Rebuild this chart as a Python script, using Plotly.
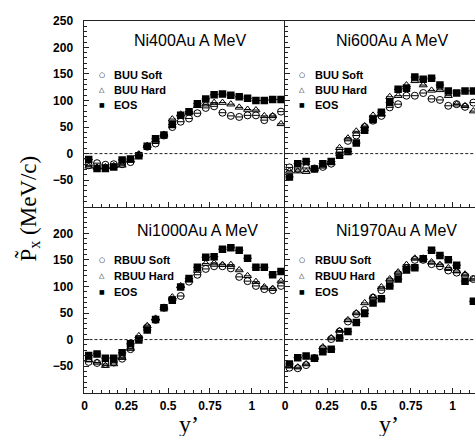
import plotly.graph_objects as go

W, H = 475, 436

# bin centres (y')
x_left = [0.025 + 0.05 * k for k in range(24)]
x_right = [0.025 + 0.05 * k for k in range(23)]

# Ni400Au A MeV
soft_400 = [-22, -18, -21, -20, -20, -16, -3, 13, 19, 34, 50, 60, 66, 76, 86, 89, 77, 71, 69, 72, 72, 63, 69, 79]
hard_400 = [-24, -26, -25, -23, -22, -12, -1, 15, 25, 36, 65, 74, 78, 90, 93, 96, 96, 93, 87, 83, 82, 71, 71, 56]
eos_400 = [-11, -28, -28, -25, -12, -10, -4, 14, 28, 35, 55, 72, 79, 94, 103, 111, 112, 110, 107, 104, 100, 100, 102, 102]

# Ni600Au A MeV
soft_600 = [-26, -29, -27, -28, -25, -19, 2, 24, 34, 50, 62, 71, 87, 93, 109, 109, 114, 103, 101, 90, 93, 88, 96]
hard_600 = [-33, -33, -34, -29, -24, -17, 11, 29, 42, 52, 72, 74, 107, 109, 129, 137, 129, 119, 120, 109, 93, 90, 80]
eos_600 = [-44, -19, -15, -29, -19, -15, -3, 4, 20, 44, 64, 78, 96, 121, 123, 144, 140, 142, 129, 118, 114, 118, 118]

# Ni1000Au A MeV
soft_1000 = [-42, -44, -46, -43, -36, -18, 1, 23, 37, 60, 75, 82, 109, 122, 133, 138, 138, 134, 118, 110, 101, 95, 93, 101]
hard_1000 = [-38, -43, -49, -46, -34, -17, 7, 26, 40, 60, 80, 101, 112, 130, 143, 144, 141, 141, 131, 120, 109, 99, 96, 110]
eos_1000 = [-30, -27, -35, -35, -25, -8, -1, 18, 38, 60, 74, 99, 115, 136, 155, 156, 170, 173, 168, 153, 136, 136, 122, 128]

# Ni1970Au A MeV
soft_1970 = [-53, -54, -48, -35, -17, 1, 15, 34, 48, 56, 79, 93, 110, 123, 134, 150, 150, 142, 138, 130, 126, 120, 114]
hard_1970 = [-50, -52, -46, -34, -14, 3, 17, 37, 50, 69, 80, 99, 114, 127, 141, 153, 153, 146, 141, 135, 129, 123, 114]
eos_1970 = [-46, -34, -31, -35, -23, -18, 3, 15, 32, 49, 69, 77, 101, 114, 131, 135, 152, 168, 158, 150, 140, 110, 72]

titles = ["Ni400Au A MeV", "Ni600Au A MeV", "Ni1000Au A MeV", "Ni1970Au A MeV"]
legend_top = ["BUU Soft", "BUU Hard", "EOS"]
legend_bottom = ["RBUU Soft", "RBUU Hard", "EOS"]
x_ticks = [0, 0.25, 0.5, 0.75, 1]
x_ticktext = ["0", "0.25", "0.5", "0.75", "1"]
y_ticks_top = [250, 200, 150, 100, 50, 0, -50]
y_ticks_bottom = [200, 150, 100, 50, 0, -50]

panels = [
    (x_left, soft_400, hard_400, eos_400, "x", "y"),
    (x_right, soft_600, hard_600, eos_600, "x2", "y2"),
    (x_left, soft_1000, hard_1000, eos_1000, "x3", "y3"),
    (x_right, soft_1970, hard_1970, eos_1970, "x4", "y4"),
]

fig = go.Figure()
for xs, soft, hard, eos, xa, ya in panels:
    ex = dict(type="constant", value=0.022, width=0, thickness=1, color="black")
    fig.add_trace(go.Scatter(x=xs, y=soft, xaxis=xa, yaxis=ya, mode="markers",
                             marker=dict(symbol="circle-open", size=7, color="black", line=dict(width=1)),
                             error_x=ex, showlegend=False))
    fig.add_trace(go.Scatter(x=xs, y=hard, xaxis=xa, yaxis=ya, mode="markers",
                             marker=dict(symbol="triangle-up-open", size=7, color="black", line=dict(width=1)),
                             error_x=ex, showlegend=False))
    fig.add_trace(go.Scatter(x=xs, y=eos, xaxis=xa, yaxis=ya, mode="markers",
                             marker=dict(symbol="square", size=7.5, color="black"),
                             error_x=dict(type="constant", value=0.025, width=0, thickness=1, color="black"),
                             error_y=dict(type="constant", value=4, width=0, thickness=1, color="black"),
                             showlegend=False))

def px(x):
    return x / W

def py(y):
    return 1 - y / H

left_dom = [px(82), px(284)]
right_dom = [px(284), 1.0]
top_dom = [py(203), py(14)]
bot_dom = [py(392), py(203)]
xr_left = [0, 1.2]
xr_right = [0, 1.2 * (475 - 284) / 202]
yr = [-100, 250]

tickfont = dict(family="Liberation Sans, Arial, sans-serif", size=12, color="black", weight="bold")
line_col = "#222"

def xax(dom, rng, labels, mirror):
    return dict(domain=dom, range=rng, showgrid=False, zeroline=False, showline=True,
                linecolor=line_col, linewidth=1, mirror=mirror, ticks="inside", ticklen=5,
                tickcolor=line_col, tickvals=x_ticks, ticktext=x_ticktext,
                showticklabels=labels, tickfont=tickfont, ticklabelstandoff=2,
                minor=dict(ticks="inside", ticklen=3, dtick=0.05, tickcolor=line_col, showgrid=False))

def yax(dom, anchor, labels, tv):
    return dict(domain=dom, range=yr, anchor=anchor, showgrid=False, zeroline=False, showline=True,
                linecolor=line_col, linewidth=1, ticks="inside", ticklen=5, tickcolor=line_col,
                tickvals=tv, showticklabels=labels, tickfont=tickfont, ticklabelstandoff=8,
                minor=dict(ticks="inside", ticklen=3, dtick=10, tickcolor=line_col, showgrid=False))

fig.update_layout(
    width=W, height=H, margin=dict(l=0, r=0, t=0, b=0),
    paper_bgcolor="white", plot_bgcolor="white",
    xaxis=xax(left_dom, xr_left, False, True) | dict(anchor="y"),
    yaxis=yax(top_dom, "x", True, y_ticks_top),
    xaxis2=xax(right_dom, xr_right, False, True) | dict(anchor="y2"),
    yaxis2=yax(top_dom, "x2", False, y_ticks_top),
    xaxis3=xax(left_dom, xr_left, True, False) | dict(anchor="y3"),
    yaxis3=yax(bot_dom, "x3", True, y_ticks_bottom),
    xaxis4=xax(right_dom, xr_right, True, False) | dict(anchor="y4"),
    yaxis4=yax(bot_dom, "x4", False, y_ticks_bottom),
)

# dashed zero lines
for xa, ya in [("x", "y"), ("x2", "y2"), ("x3", "y3"), ("x4", "y4")]:
    fig.add_shape(type="line", xref=f"{xa} domain", yref=ya, x0=0, x1=1, y0=0, y1=0,
                  line=dict(color="#222", width=1, dash="3px,2px"))

sans = "Liberation Sans, Arial, sans-serif"
serif = "Liberation Serif, Times New Roman, serif"
ann = []
# panel titles
for t, (cx, cy) in zip(titles, [(188, 34), (391, 34), (196, 227), (396, 227)]):
    ann.append(dict(text=t, x=px(cx), y=py(cy), xref="paper", yref="paper", showarrow=False,
                    xanchor="center", yanchor="middle", font=dict(family=sans, size=16, color="black")))

# legends
glyphs = ["○", "△", "■"]
for labels, gx, tx, ys in [(legend_top, 99.5, 110, [69, 84.5, 99.5]),
                           (legend_top, 301, 311.5, [69, 84.5, 99.5]),
                           (legend_bottom, 99.5, 110, [257.5, 273.5, 289.5]),
                           (legend_bottom, 301, 311.5, [257.5, 273.5, 289.5])]:
    for g, lab, yy in zip(glyphs, labels, ys):
        ann.append(dict(text=g, x=px(gx), y=py(yy), xref="paper", yref="paper", showarrow=False,
                        xanchor="center", yanchor="middle",
                        font=dict(family="DejaVu Sans", size=7 if g != "■" else 6, color="black")))
        ann.append(dict(text=lab, x=px(tx), y=py(yy), xref="paper", yref="paper", showarrow=False,
                        xanchor="left", yanchor="middle",
                        font=dict(family=sans, size=11, color="black", weight="bold")))

# axis titles
ann.append(dict(text="P\u0303<sub>x</sub> (MeV/c)", x=px(26), y=py(205), xref="paper", yref="paper",
                showarrow=False, textangle=-90, xanchor="center", yanchor="middle",
                font=dict(family=serif, size=23, color="black")))
for cx in [187, 388]:
    ann.append(dict(text="y\u2019", x=px(cx), y=py(424), xref="paper", yref="paper", showarrow=False,
                    xanchor="center", yanchor="middle", font=dict(family=serif, size=24, color="black")))

fig.update_layout(annotations=ann)
fig.write_html("out.html", config=dict(displayModeBar=False),
               post_script="document.body.style.margin='0px';document.body.style.overflow='hidden';")
